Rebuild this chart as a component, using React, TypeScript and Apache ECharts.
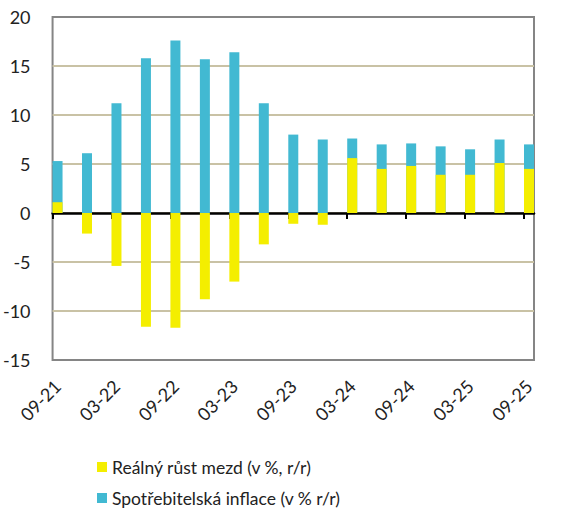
import { useRef, useEffect } from "react"
import * as echarts from "echarts"

const categories = [
  "09-21", "12-21", "03-22", "06-22", "09-22", "12-22", "03-23", "06-23", "09-23",
  "12-23", "03-24", "06-24", "09-24", "12-24", "03-25", "06-25", "09-25",
]

// Spotřebitelská inflace
const inflation = [5.3, 6.1, 11.2, 15.8, 17.6, 15.7, 16.4, 11.2, 8.0, 7.5, 7.6, 7.0, 7.1, 6.8, 6.5, 7.5, 7.0]
// Reálný růst mezd
const realWages = [1.1, -2.1, -5.4, -11.6, -11.7, -8.8, -7.0, -3.2, -1.1, -1.2, 5.6, 4.5, 4.8, 3.9, 3.9, 5.1, 4.5]

const yTicks = [-15, -10, -5, 0, 5, 10, 15, 20]

const WAGES = "Reálný růst mezd (v %, r/r)"
const CPI = "Spotřebitelská inflace (v % r/r)"

const W = 570
const H = 518
const LEFT = 50
const RIGHT = 36
const BAR_W = 10
const FONT = "Lato, 'Noto Sans', sans-serif"

export default function App() {
  const chartRef = useRef<HTMLDivElement>(null)

  useEffect(() => {
    if (!chartRef.current) return
    const instance = echarts.init(chartRef.current, undefined, { renderer: "svg", width: W, height: H })

    const n = categories.length
    // bars start right at the left edge of the plot and end at the right one
    const pad = (BAR_W / 2) * (n - 1) / (W - LEFT - RIGHT - BAR_W)
    const even = categories.map((_, i) => i).filter((i) => i % 2 === 0)

    instance.setOption({
      animation: false,
      textStyle: { fontFamily: FONT },
      grid: {
        left: LEFT,
        right: RIGHT,
        top: 17,
        bottom: 158,
        show: true,
        borderColor: "#858585",
        borderWidth: 2,
      },
      legend: {
        orient: "vertical",
        left: 97,
        top: 457,
        padding: 0,
        itemGap: 11,
        itemWidth: 10,
        itemHeight: 10,
        icon: "rect",
        data: [WAGES, CPI],
        textStyle: { fontSize: 17.5, color: "#222", lineHeight: 20, fontFamily: FONT },
      },
      xAxis: [
        {
          type: "value",
          min: -pad,
          max: n - 1 + pad,
          position: "bottom",
          axisLine: { onZero: true, lineStyle: { color: "#000", width: 2.5 } },
          axisTick: {
            show: true,
            length: 6,
            lineStyle: { color: "#000", width: 2 },
            customValues: even.map((i) => i - pad),
          },
          axisLabel: { show: false },
          splitLine: { show: false },
        },
        {
          type: "value",
          min: -pad,
          max: n - 1 + pad,
          position: "bottom",
          axisLine: { show: false, onZero: false },
          axisTick: { show: false },
          splitLine: { show: false },
          axisLabel: {
            customValues: even,
            rotate: 45,
            fontSize: 18,
            color: "#222",
            margin: 23,
            fontFamily: FONT,
            formatter: (v: number) => categories[Math.round(v)] ?? "",
          },
        },
      ],
      yAxis: {
        type: "value",
        min: yTicks[0],
        max: yTicks[yTicks.length - 1],
        interval: 5,
        axisLine: { show: false, onZero: false },
        axisTick: { show: false },
        axisLabel: { fontSize: 18, color: "#222", margin: 22, fontFamily: FONT },
        splitLine: {
          show: true,
          showMinLine: false,
          showMaxLine: false,
          lineStyle: { color: "#c9c2a5", width: 2 },
        },
      },
      series: [
        {
          name: CPI,
          type: "bar",
          xAxisIndex: 0,
          barWidth: BAR_W,
          barGap: "-100%",
          itemStyle: { color: "#42b9d2" },
          data: inflation.map((v, i) => [i, v]),
        },
        {
          name: WAGES,
          type: "bar",
          xAxisIndex: 0,
          barWidth: BAR_W,
          barGap: "-100%",
          itemStyle: { color: "#f4ee00" },
          data: realWages.map((v, i) => [i, v]),
        },
      ],
    })

    return () => {
      instance.dispose()
    }
  }, [])

  return (
    <div
      ref={chartRef}
      style={{ position: "fixed", left: 0, top: 0, width: W, height: H, background: "#fff" }}
    />
  )
}
